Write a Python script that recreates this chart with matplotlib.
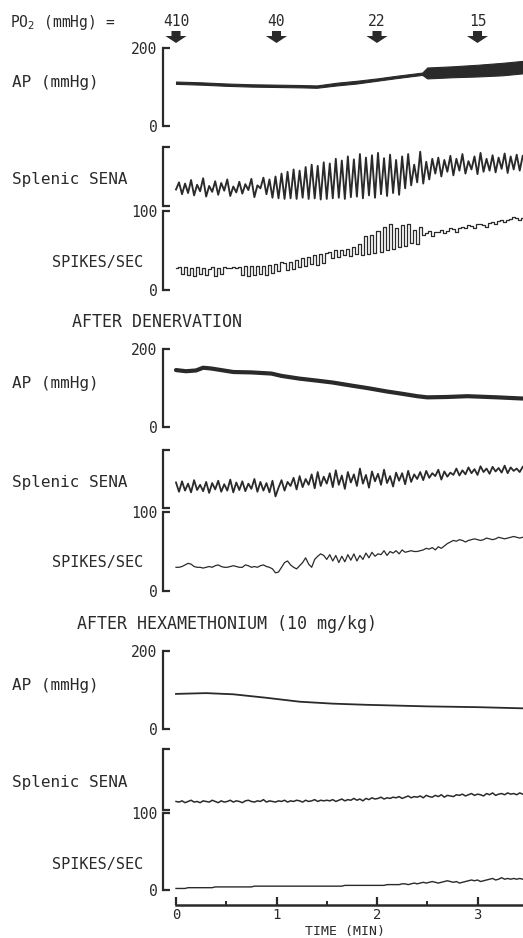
import numpy as np
import matplotlib.pyplot as plt

plt.rcParams['font.family'] = ['DejaVu Sans Mono', 'DejaVu Sans']

# ---- data ----
# sampled every 0.03 min from 0 to 3.45 min
DT = 0.03

po2_t = [0, 1, 2, 3]
po2_vals = ['410', '40', '22', '15']

# Panel 1: control
ap1_t = [0, 0.25, 0.5, 0.75, 1.0, 1.25, 1.4, 1.6, 1.8, 2.0, 2.2, 2.45, 2.5, 2.75, 3.0, 3.25, 3.45]
ap1_sys = [114, 112, 109, 107, 106, 105, 104, 111, 116, 122, 129, 137, 150, 153, 157, 162, 167]
ap1_dia = [108, 106, 103, 101, 100, 99, 98, 104, 109, 116, 123, 131, 122, 125, 127, 130, 135]

sena1 = [28, 40, 20, 38, 22, 44, 18, 36, 25, 47, 16, 34, 24, 42, 19, 39, 26, 45, 17, 33, 23, 41, 21, 37, 27, 46, 15, 35, 30, 48, 20,
         45, 14, 50, 13, 55, 12, 58, 13, 62, 12, 60, 14, 66, 12, 70, 13, 68, 11, 74, 12,
         72, 13, 80, 14, 77, 12, 84, 15, 79, 16, 88, 13, 82, 18, 86, 14, 90, 20, 81, 17, 87, 22, 78, 19, 84,
         30, 88, 35, 70, 40, 92, 38, 75, 45, 80,
         55, 82, 50, 78, 58, 85, 52, 80, 60, 88, 55, 76, 62, 84, 54, 90, 58, 80, 60, 86, 57, 82, 63, 89, 56, 84, 62, 87, 60, 85]

spikes1 = [28, 29, 20, 29, 19, 28, 18, 29, 20, 28, 19, 27, 29, 18, 28, 20, 29, 28, 28, 29, 28,
           29, 19, 30, 18, 30, 19, 31, 20, 30, 19, 32, 22, 33, 24, 35,
           34, 25, 36, 27, 38, 29, 40, 30, 42, 33, 44, 32, 45, 34, 47,
           48, 40, 50, 42, 51, 44, 52, 43, 55, 45,
           58, 44, 68, 45, 70, 47, 75, 48, 80, 50, 84, 52, 78, 55, 82,
           56, 83, 60, 76, 58, 80, 70, 72, 75, 68,
           74, 73, 76, 72, 75, 78, 77, 74, 79, 80, 78, 82, 81, 79, 83, 84, 82, 80, 85, 86, 84, 87, 88, 86, 89, 90, 92, 91, 89, 91]

# Panel 2: after denervation
ap2_t = [0, 0.1, 0.2, 0.27, 0.35, 0.57, 0.75, 0.95, 1.05, 1.23, 1.4, 1.56, 1.75, 1.9, 2.1, 2.23, 2.4, 2.5, 2.7, 2.9, 3.2, 3.45]
ap2 = [146, 143, 145, 152, 150, 141, 140, 137, 131, 124, 119, 114, 106, 100, 91, 86, 79, 76, 77, 79, 76, 73]

sena2 = [44, 28, 46, 30, 42, 27, 48, 31, 40, 29, 45, 26, 43, 32, 47, 28, 41, 30, 49, 27, 44, 31, 46, 29, 42, 33, 50, 28, 45, 30, 43, 27, 47, 20,
         35, 48, 30, 45, 38, 52, 32, 55, 36, 50, 40, 58, 34, 62, 38, 54,
         42, 60, 36, 65, 40, 56, 33, 62, 44, 58, 38, 68, 42, 57, 35, 63, 46, 59, 40, 66, 43, 55, 37, 61, 47, 60, 41, 64, 45, 58,
         50, 62, 48, 64, 52, 60, 55, 66, 49, 63, 54, 61, 57, 68, 56, 65, 58, 70, 60, 67, 57, 72, 62, 68, 59, 71, 63, 69, 61, 73, 60, 70, 64, 68, 62, 71]

spikes2 = [30, 30, 31, 33, 35, 34, 31, 30, 30, 29, 30, 31, 30, 32, 33, 31, 30, 30, 31, 32, 31, 30, 30, 33, 32, 30, 31, 30, 32, 33, 31, 30, 28, 23,
           24, 30, 36, 38, 33, 30, 28, 32, 36, 42, 34, 30, 40, 44, 47, 45,
           40, 46, 38, 45, 36, 44, 37, 46, 39, 47, 38, 45, 40, 48, 42, 49, 44, 47, 46, 51, 45, 50, 48, 51, 47, 52, 49, 50, 51, 50,
           50, 51, 52, 54, 53, 55, 52, 56, 54, 57, 60, 62, 64, 63, 65, 64, 62, 64, 65, 66, 65, 64, 65, 67, 66, 65, 66, 68, 67, 66, 67, 68, 69, 68, 67, 68]

# Panel 3: after hexamethonium
ap3_t = [0, 0.3, 0.57, 0.9, 1.23, 1.56, 1.9, 2.5, 3.0, 3.45]
ap3 = [90, 92, 89, 80, 70, 65, 62, 58, 56, 53]

sena3 = [14, 13, 15, 12, 14, 16, 13, 14, 12, 15, 14, 13, 16, 14, 12, 15, 13, 14, 16, 13, 15, 14, 12, 15, 16, 14, 13, 15, 14, 17, 13, 15, 14, 13,
         15, 14, 16, 13, 15, 14, 16, 15, 13, 16, 14, 15, 17, 14, 16, 15,
         16, 15, 17, 14, 16, 18, 15, 17, 16, 19, 16, 18, 15, 19, 17, 20, 18, 19, 21, 18, 20, 19, 21, 20, 22, 19, 21, 23, 20, 22,
         21, 23, 20, 24, 22, 21, 24, 22, 25, 21, 24, 23, 22, 25, 24, 26, 23, 25, 27, 24, 26, 25, 23, 27, 25, 28, 24, 26, 27, 25, 28, 26, 27, 25, 28, 26]

spikes3 = [2, 2, 2, 2, 3, 3, 3, 3, 3, 3, 3, 3, 3, 4, 4, 4, 4, 4, 4, 4, 4, 4, 4, 4, 4, 4, 5, 5, 5, 5, 5, 5, 5, 5,
           5, 5, 5, 5, 5, 5, 5, 5, 5, 5, 5, 5, 5, 5, 5, 5,
           5, 5, 5, 5, 5, 5, 6, 6, 6, 6, 6, 6, 6, 6, 6, 6, 6, 6, 6, 6, 7, 7, 7, 7, 7, 8, 8, 7, 8, 9,
           8, 9, 10, 9, 10, 11, 10, 9, 10, 11, 12, 11, 10, 11, 9, 10, 11, 12, 13, 12, 13, 11, 12, 13, 14, 15, 13, 14, 16, 14, 15, 14, 15, 14, 15, 14]

# ---- layout (pixels) ----
W, H = 523, 938
LEFT = 163
PX_PER_MIN = 100.5
T0_PX = 176
XLIM = (-(T0_PX - LEFT) / PX_PER_MIN, (W - T0_PX) / PX_PER_MIN)
INK = '#2a2a2a'
FS = 10.5

fig = plt.figure(figsize=(W / 100, H / 100), dpi=100)
fig.patch.set_facecolor('white')


def px_axes(top, bottom):
    ax = fig.add_axes([LEFT / W, 1 - bottom / H, (W - LEFT) / W, (bottom - top) / H])
    ax.set_xlim(*XLIM)
    ax.patch.set_alpha(0)
    return ax


def bracket(ax, lo, hi, labels=None):
    for s in ['top', 'right', 'bottom']:
        ax.spines[s].set_visible(False)
    ax.spines['left'].set_linewidth(1.6)
    ax.spines['left'].set_color(INK)
    ax.set_ylim(lo, hi)
    ax.spines['left'].set_bounds(lo, hi)
    ax.set_yticks([lo, hi])
    ax.set_yticklabels(labels if labels else ['', ''])
    ax.tick_params(axis='y', direction='in', length=5, width=1.6, color=INK,
                   labelsize=FS, labelcolor=INK, pad=4)
    ax.set_xticks([])


def ftext(x, y, s, size=11.5):
    fig.text(x / W, 1 - y / H, s, va='center', ha='left', fontsize=size, color=INK)


t = np.arange(len(sena1)) * DT

# header: PO2 values and arrows
hdr = px_axes(0, 48)
hdr.set_ylim(48, 0)
hdr.axis('off')
for tx, lab in zip(po2_t, po2_vals):
    hdr.text(tx, 22, lab, ha='center', va='center', fontsize=FS, color=INK)
    hdr.arrow(tx, 31, 0, 12, width=0.09, head_width=0.21, head_length=7,
              length_includes_head=True, color=INK, lw=0)
ftext(10, 22, 'PO$_2$ (mmHg) =', size=10.5)

panels = [
    dict(ap_top=48, ap_bot=126, sena_top=147, sena_bot=206, sp_top=211, sp_bot=290),
    dict(ap_top=349, ap_bot=427, sena_top=450, sena_bot=508, sp_top=512, sp_bot=591),
    dict(ap_top=651, ap_bot=729, sena_top=749, sena_bot=810, sp_top=813, sp_bot=890),
]

axes = []
for p in panels:
    a = px_axes(p['ap_top'], p['ap_bot'])
    bracket(a, 0, 200, ['0', '200'])
    s = px_axes(p['sena_top'], p['sena_bot'])
    bracket(s, 0, 100)
    k = px_axes(p['sp_top'], p['sp_bot'])
    bracket(k, 0, 100, ['0', '100'])
    axes.append((a, s, k))
    ftext(12, p['ap_top'] + 34, 'AP (mmHg)')
    ftext(12, (p['sena_top'] + p['sena_bot']) / 2 + 3, 'Splenic SENA')
    ftext(52, p['sp_top'] + 51, 'SPIKES/SEC', size=11)

# panel 1 traces
a, s, k = axes[0]
a.fill_between(ap1_t, ap1_dia, ap1_sys, color=INK, lw=0.8, clip_on=False)
s.plot(t, sena1, color=INK, lw=1.35, clip_on=False)
k.plot(t, spikes1, color=INK, lw=0.9, drawstyle='steps-mid', clip_on=False)

# panel 2
a, s, k = axes[1]
a.plot(ap2_t, ap2, color=INK, lw=3.0, solid_capstyle='round', clip_on=False)
s.plot(t, sena2, color=INK, lw=1.3, clip_on=False)
k.plot(t, spikes2, color=INK, lw=0.9, clip_on=False)

# panel 3
a, s, k = axes[2]
a.plot(ap3_t, ap3, color=INK, lw=1.3, clip_on=False)
s.plot(t, sena3, color=INK, lw=1.1, clip_on=False)
k.plot(t, spikes3, color=INK, lw=1.0, clip_on=False)

# time axis under last panel
k.spines['bottom'].set_visible(True)
k.spines['bottom'].set_position(('outward', 11))
k.spines['bottom'].set_linewidth(1.8)
k.spines['bottom'].set_color(INK)
k.spines['bottom'].set_bounds(0, XLIM[1])
k.set_xticks([0, 1, 2, 3])
k.set_xticks([0.5, 1.5, 2.5], minor=True)
k.tick_params(axis='x', which='major', direction='in', length=6, width=1.6,
              color=INK, labelsize=FS - 0.5, labelcolor=INK, pad=2)
k.tick_params(axis='x', which='minor', direction='in', length=3, width=1.4, color=INK)

ftext(72, 322, 'AFTER DENERVATION', size=12)
ftext(77, 624, 'AFTER HEXAMETHONIUM (10 mg/kg)', size=12)
fig.text(345 / W, 1 - 931 / H, 'TIME (MIN)', ha='center', va='center', fontsize=9.5, color=INK)

fig.savefig('out.png', dpi=100, facecolor='white')
